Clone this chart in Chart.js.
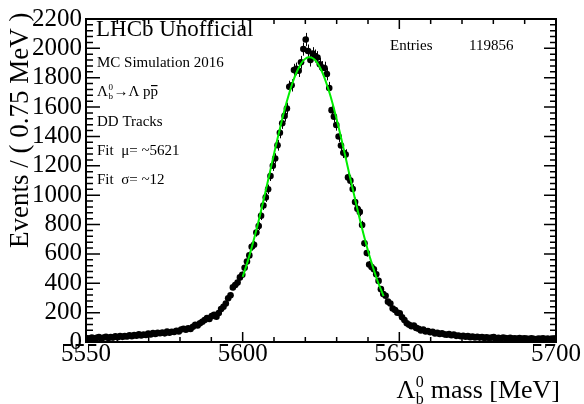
<!DOCTYPE html>
<html>
<head>
<meta charset="utf-8">
<script src="https://cdn.jsdelivr.net/npm/chart.js@4"></script>
<style>
  html, body { margin: 0; padding: 0; background: #fff; }
  #massChart { display: block; }
</style>
</head>
<body>
<canvas id="massChart" width="584" height="404"></canvas>
<script>
// Histogramm-Binning: 200 Bins à 0.75 MeV von 5550 bis 5700
const binLow = 5550;
const binWidth = 0.75;

// Einträge pro Bin, 20 Bins pro Zeile
const counts = [
  26, 21, 31, 24, 28, 33, 23, 30, 35, 27, 33, 30, 38, 32, 41, 35, 40, 37, 46, 39,
  47, 43, 52, 45, 50, 48, 58, 51, 61, 55, 62, 60, 64, 59, 71, 63, 70, 68, 77, 72,
  85, 90, 83, 94, 89, 104, 118, 113, 127, 138, 150, 163, 157, 176, 185, 172, 197, 224, 240, 262,
  298, 318, 372, 388, 405, 440, 458, 505, 548, 590, 648, 662, 745, 790, 860, 930, 985, 1040, 1130, 1200,
  1250, 1340, 1425, 1490, 1540, 1590, 1738, 1748, 1852, 1860, 1848, 1905, 1995, 2060, 1982, 1920, 1964, 1948, 1937, 1892,
  1870, 1866, 1825, 1730, 1579, 1535, 1478, 1400, 1338, 1289, 1277, 1121, 1099, 1042, 953, 908, 886, 797, 673, 606,
  528, 510, 495, 461, 416, 360, 327, 315, 275, 262, 228, 218, 200, 195, 168, 150, 128, 118, 107, 112,
  96, 90, 78, 84, 72, 75, 66, 70, 58, 62, 55, 60, 52, 49, 55, 46, 50, 42, 44, 39,
  42, 36, 40, 33, 37, 31, 35, 30, 34, 28, 32, 27, 30, 33, 26, 29, 25, 30, 27, 24,
  28, 23, 26, 22, 27, 21, 25, 24, 20, 26, 22, 19, 24, 21, 25, 20, 23, 18, 22, 24
];

const fitMass = [
  5600, 5601, 5602, 5603, 5604, 5605, 5606, 5607, 5608, 5609,
  5610, 5611, 5612, 5613, 5614, 5615, 5616, 5617, 5618, 5619,
  5620, 5621, 5622, 5623, 5624, 5625, 5626, 5627, 5628, 5629,
  5630, 5631, 5632, 5633, 5634, 5635, 5636, 5637, 5638, 5639,
  5640, 5641, 5642, 5643, 5644, 5645
];
const fitValues = [
  444, 508, 578, 653, 733, 818, 906, 998, 1091, 1186,
  1281, 1374, 1464, 1551, 1631, 1705, 1771, 1827, 1872, 1907,
  1929, 1939, 1937, 1922, 1895, 1856, 1806, 1745, 1677, 1600,
  1517, 1429, 1337, 1243, 1148, 1054, 961, 870, 783, 700,
  622, 549, 482, 419, 363, 312
];

// Achsenbeschriftungen
const xTicks = [5550, 5600, 5650, 5700];
const yTicks = [0, 200, 400, 600, 800, 1000, 1200, 1400, 1600, 1800, 2000, 2200];

const FONT = '"Liberation Serif", "Times New Roman", serif';

// Datenpunkte für Chart.js aufbauen (Bin-Mitte, Einträge)
const histPoints = counts.map((c, i) => ({ x: binLow + binWidth * (i + 0.5), y: c }));
const fitPoints = fitMass.map((m, i) => ({ x: m, y: fitValues[i] }));

// Fehlerbalken (Poisson, sqrt N) unter die Marker zeichnen
const errorBarPlugin = {
  id: "errorBars",
  beforeDatasetsDraw(chart) {
    const ctx = chart.ctx;
    const xs = chart.scales.x, ys = chart.scales.y;
    const area = chart.chartArea;
    ctx.save();
    ctx.strokeStyle = "#000";
    ctx.lineWidth = 1;
    histPoints.forEach(p => {
      const err = Math.sqrt(p.y);
      const px = Math.round(xs.getPixelForValue(p.x)) + 0.5;
      const top = Math.max(area.top, ys.getPixelForValue(p.y + err));
      const bot = Math.min(area.bottom, ys.getPixelForValue(p.y - err));
      ctx.beginPath();
      ctx.moveTo(px, top);
      ctx.lineTo(px, bot);
      ctx.stroke();
    });
    ctx.restore();
  }
};

// Rahmen, Ticks nach innen (ROOT-Stil) und Texte
const frameAndTextPlugin = {
  id: "frameAndText",
  afterDraw(chart) {
    const ctx = chart.ctx;
    const xs = chart.scales.x, ys = chart.scales.y;
    const a = chart.chartArea;
    ctx.save();
    ctx.strokeStyle = "#000";
    ctx.fillStyle = "#000";
    ctx.lineWidth = 2;
    ctx.strokeRect(a.left, a.top, a.right - a.left, a.bottom - a.top);

    ctx.lineWidth = 1.5;
    ctx.beginPath();
    // x-Ticks alle 10 MeV, groß alle 50
    for (let v = 5550; v <= 5700; v += 10) {
      const px = xs.getPixelForValue(v);
      const len = (v % 50 === 0) ? 10 : 5;
      ctx.moveTo(px, a.bottom); ctx.lineTo(px, a.bottom - len);
      ctx.moveTo(px, a.top); ctx.lineTo(px, a.top + len);
    }
    // y-Ticks alle 40, groß alle 200
    for (let v = 0; v <= 2200; v += 40) {
      const py = ys.getPixelForValue(v);
      const big = v % 200 === 0;
      ctx.moveTo(a.left, py); ctx.lineTo(a.left + (big ? 14 : 7), py);
      ctx.moveTo(a.right, py); ctx.lineTo(a.right - (big ? 12 : 6), py);
    }
    ctx.stroke();

    // Lambda_b^0 mit Index und Exponent
    function lambdaB(x, y, size) {
      ctx.font = size + "px " + FONT;
      ctx.fillText("\u039B", x, y);
      const w = ctx.measureText("\u039B").width;
      const small = Math.round(size * 0.62);
      ctx.font = small + "px " + FONT;
      ctx.fillText("b", x + w + 0.5, y + size * 0.22);
      ctx.fillText("0", x + w + 0.5, y - size * 0.42);
      return w + Math.max(ctx.measureText("b").width, ctx.measureText("0").width) + 1;
    }

    // Beschriftung im Plot
    ctx.textAlign = "left";
    ctx.textBaseline = "alphabetic";
    ctx.font = "23px " + FONT;
    ctx.fillText("LHCb Unofficial", 96, 36);
    ctx.font = "15px " + FONT;
    ctx.fillText("MC Simulation 2016", 97, 67);
    let cx = 97 + lambdaB(97, 96, 15);
    ctx.font = "15px " + FONT;
    const mid = "\u2192\u039B p";
    ctx.fillText(mid, cx, 96);
    cx += ctx.measureText(mid).width;
    ctx.fillText("p", cx, 96);
    const pw = ctx.measureText("p").width;
    ctx.fillRect(cx + 0.5, 85, pw - 1, 1.2);
    ctx.fillText("DD Tracks", 97, 126);
    ctx.fillText("Fit  \u03BC= ~5621", 97, 155);
    ctx.fillText("Fit  \u03C3= ~12", 97, 184);
    ctx.fillText("Entries", 390, 50);
    ctx.fillText("119856", 469, 50);

    // x-Achsentitel, rechtsbündig
    const tSize = 26;
    ctx.font = tSize + "px " + FONT;
    const rest = " mass [MeV]";
    const restW = ctx.measureText(rest).width;
    ctx.font = Math.round(tSize * 0.62) + "px " + FONT;
    const subW = ctx.measureText("0").width + 1;
    ctx.font = tSize + "px " + FONT;
    const lamW = ctx.measureText("\u039B").width;
    const startX = 560 - restW - lamW - subW;
    const off = lambdaB(startX, 398, tSize);
    ctx.font = tSize + "px " + FONT;
    ctx.fillText(rest, startX + off, 398);

    // y-Achsentitel, gedreht, oben bündig
    ctx.translate(28, 248);
    ctx.rotate(-Math.PI / 2);
    ctx.font = "27px " + FONT;
    ctx.fillText("Events / ( 0.75 MeV )", 0, 0);
    ctx.restore();
  }
};

const ctx = document.getElementById("massChart").getContext("2d");
const massChart = new Chart(ctx, {
  type: "scatter",
  data: {
    datasets: [
      {
        label: "Fit",
        type: "line",
        data: fitPoints,
        borderColor: "#00ee00",
        borderWidth: 2,
        pointRadius: 0,
        tension: 0.3,
        fill: false,
        order: 0
      },
      {
        label: "Daten",
        data: histPoints,
        backgroundColor: "#000",
        borderColor: "#000",
        pointRadius: 3.3,
        pointBorderWidth: 0,
        order: 1
      }
    ]
  },
  options: {
    responsive: false,
    animation: false,
    devicePixelRatio: 1,
    layout: { padding: { left: 0, right: 28, top: 14, bottom: 0 } },
    plugins: { legend: { display: false }, tooltip: { enabled: false } },
    scales: {
      x: {
        type: "linear",
        min: 5550,
        max: 5700,
        afterBuildTicks: (scale) => { scale.ticks = xTicks.map(v => ({ value: v })); },
        afterFit: (scale) => { scale.height = 62; },
        grid: { display: false, drawTicks: false },
        border: { display: false },
        ticks: {
          color: "#000", font: { family: FONT, size: 25 }, padding: -3,
          maxRotation: 0, autoSkip: false, callback: (v) => String(v)
        }
      },
      y: {
        min: 0,
        max: 2200,
        afterBuildTicks: (scale) => { scale.ticks = yTicks.map(v => ({ value: v })); },
        afterFit: (scale) => { scale.width = 86; },
        grid: { display: false, drawTicks: false },
        border: { display: false },
        ticks: {
          color: "#000", font: { family: FONT, size: 25 }, padding: 4,
          autoSkip: false, callback: (v) => String(v)
        }
      }
    }
  },
  plugins: [errorBarPlugin, frameAndTextPlugin]
});
</script>
</body>
</html>
